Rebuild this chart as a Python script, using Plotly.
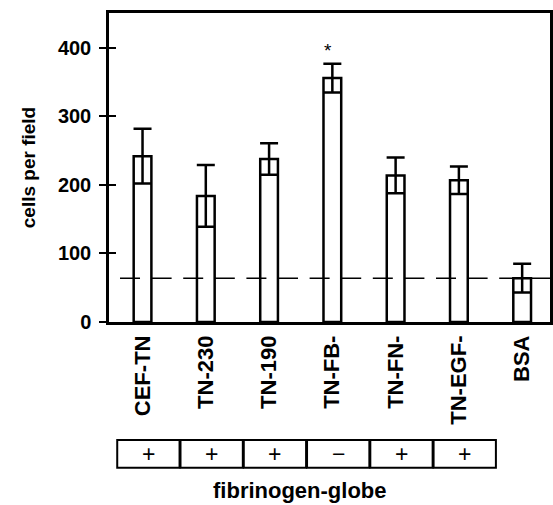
import plotly.graph_objects as go

categories = ["CEF-TN", "TN-230", "TN-190", "TN-FB-", "TN-FN-", "TN-EGF-", "BSA"]
cells_mean = [242, 184, 238, 356, 214, 207, 64]
cells_err = [40, 45, 23, 21, 26, 20, 21]
fibrinogen_globe = ["+", "+", "+", "\u2212", "+", "+"]
y_ticks = [0, 100, 200, 300, 400]
significant = ["TN-FB-"]

baseline = cells_mean[categories.index("BSA")]
FONT = "Liberation Sans, Arial, sans-serif"

fig = go.Figure()
fig.add_trace(go.Bar(
    x=categories, y=cells_mean,
    width=0.28,
    marker=dict(color="white", line=dict(color="black", width=2.5)),
    error_y=dict(type="data", array=cells_err, visible=True,
                 color="black", thickness=2.5, width=9),
    showlegend=False, hoverinfo="skip",
))
# dummy trace to activate overlay axis (inner ticks)
fig.add_trace(go.Scatter(x=[categories[0]], y=[0], yaxis="y2", mode="markers",
                         marker=dict(opacity=0), showlegend=False, hoverinfo="skip"))

shapes = []
shapes.append(dict(type="line", xref="x", yref="y", x0=-0.356, x1=6.44,
                   y0=baseline, y1=baseline,
                   line=dict(color="black", width=1.5, dash="20px,11.6px"),
                   layer="above"))
annotations = []
for i, s in enumerate(fibrinogen_globe):
    shapes.append(dict(type="rect", xref="x", yref="paper",
                       x0=i - 0.4, x1=i + 0.585, y0=-0.472, y1=-0.382,
                       line=dict(color="black", width=2), layer="below"))
    annotations.append(dict(x=i + 0.09, xref="x", y=-0.426, yref="paper",
                            text=s, showarrow=False, xanchor="center", yanchor="middle",
                            font=dict(family=FONT, size=23, color="black")))
for c in significant:
    k = categories.index(c)
    annotations.append(dict(x=k - 0.07, xref="x", y=cells_mean[k] + cells_err[k] + 20,
                            yref="y", text="*", showarrow=False, yanchor="middle",
                            font=dict(family=FONT, size=19, color="black")))
annotations.append(dict(x=0.433, xref="paper", y=-0.546, yref="paper",
                        text="fibrinogen-globe", showarrow=False,
                        xanchor="center", yanchor="middle",
                        font=dict(family=FONT, size=22, color="black", weight="bold")))

fig.update_layout(
    width=553, height=505,
    margin=dict(l=109, r=3, t=13, b=183, autoexpand=False),
    paper_bgcolor="white", plot_bgcolor="white",
    xaxis=dict(range=[-0.53, 6.44], showline=True, linecolor="black", linewidth=2.5,
               mirror=True, ticks="", tickangle=-90, showgrid=False, automargin=False,
               ticklabelstandoff=2,
               tickfont=dict(family=FONT, size=22, color="black", weight="bold")),
    yaxis=dict(range=[0, 451], showline=True, linecolor="black", linewidth=2.5,
               mirror=True, ticks="outside", ticklen=7, tickwidth=2, tickcolor="black",
               tickvals=y_ticks, showgrid=False, zeroline=False, automargin=False,
               ticklabelstandoff=4,
               tickfont=dict(family=FONT, size=20, color="black", weight="bold"),
               title=dict(text="cells per field", standoff=18,
                          font=dict(family=FONT, size=19, color="black", weight="bold"))),
    yaxis2=dict(overlaying="y", matches="y", side="left", ticks="inside", ticklen=7,
                tickwidth=2, tickcolor="black", tickvals=y_ticks, showticklabels=False,
                showline=False, showgrid=False, zeroline=False, automargin=False),
    shapes=shapes, annotations=annotations,
)

fig.write_html("out.html", post_script="document.body.style.margin='0';",
               config={"displayModeBar": False})
